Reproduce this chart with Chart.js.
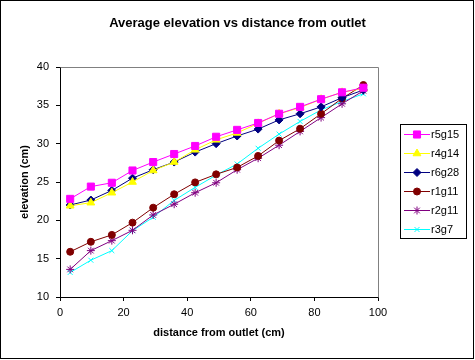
<!DOCTYPE html>
<html>
<head>
<meta charset="utf-8">
<script src="https://cdn.jsdelivr.net/npm/chart.js@4/dist/chart.umd.min.js"></script>
<style>
  html, body { margin: 0; padding: 0; background: #fff; }
  #wrap { width: 475px; height: 360px; position: relative; }
</style>
</head>
<body>
<div id="wrap"><canvas id="c" width="475" height="360"></canvas></div>
<script>
const chartTitle = 'Average elevation vs distance from outlet';
const xTitle = 'distance from outlet (cm)';
const yTitle = 'elevation (cm)';
const seriesNames = ['r5g15', 'r4g14', 'r6g28', 'r1g11', 'r2g11', 'r3g7'];
const distance = [3.2, 9.7, 16.3, 22.8, 29.3, 35.9, 42.5, 49.1, 55.7, 62.3, 68.9, 75.5, 82.1, 88.7, 95.4];
const r5g15 = [22.8, 24.4, 24.9, 26.5, 27.6, 28.65, 29.7, 30.9, 31.8, 32.7, 33.9, 34.8, 35.8, 36.7, 37.3];
const r4g14 = [21.9, 22.3, 23.6, 25.0, 26.5, 27.6, 29.2, 30.5, 31.4, 32.65, 33.9, 34.7, 35.8, 36.7, 37.2];
const r6g28 = [22.0, 22.65, 23.9, 25.5, 26.6, 27.6, 28.9, 30.0, 31.0, 31.9, 33.1, 33.9, 34.8, 36.0, 37.0];
const r1g11 = [15.9, 17.2, 18.1, 19.7, 21.65, 23.4, 24.95, 26.0, 26.9, 28.4, 30.4, 31.95, 33.9, 35.9, 37.65];
const r2g11 = [13.6, 16.05, 17.35, 18.7, 20.7, 22.1, 23.6, 24.9, 26.6, 28.1, 29.8, 31.6, 33.4, 35.2, 36.9];
const r3g7  = [13.2, 14.8, 16.05, 18.65, 20.4, 22.6, 24.3, 25.9, 27.35, 29.4, 31.25, 32.9, 34.4, 35.5, 36.5];
const xTicks = [0, 20, 40, 60, 80, 100];
const yTicks = [10, 15, 20, 25, 30, 35, 40];

const FONT = 'Arial, "Liberation Sans", Helvetica, sans-serif';
const seriesValues = [r5g15, r4g14, r6g28, r1g11, r2g11, r3g7];
const styles = [
  { color: '#FF00FF', pointStyle: 'rect', radius: 5 },
  { color: '#FFFF00', pointStyle: 'triangle', radius: 4.5 },
  { color: '#000080', pointStyle: 'rectRot', radius: 4 },
  { color: '#800000', pointStyle: 'circle', radius: 3.5 },
  { color: '#800080', pointStyle: 'star', radius: 4 },
  { color: '#00FFFF', pointStyle: 'crossRot', radius: 3.5 }
];

const datasets = seriesNames.map((name, i) => ({
  label: name,
  data: distance.map((d, j) => ({ x: d, y: seriesValues[i][j] })),
  borderColor: styles[i].color,
  backgroundColor: styles[i].color,
  pointBackgroundColor: styles[i].color,
  pointBorderColor: styles[i].color,
  pointStyle: styles[i].pointStyle,
  pointRadius: styles[i].radius,
  pointHoverRadius: styles[i].radius,
  pointBorderWidth: 1,
  borderWidth: 1,
  tension: 0,
  fill: false
}));

const frame = {
  id: 'frame',
  beforeDatasetsDraw(chart) {
    const { ctx, chartArea: a } = chart;
    ctx.save();
    ctx.strokeStyle = '#808080';
    ctx.lineWidth = 1;
    ctx.beginPath();
    ctx.moveTo(Math.round(a.left) + 0.5, Math.round(a.top) + 0.5);
    ctx.lineTo(Math.round(a.right) + 0.5, Math.round(a.top) + 0.5);
    ctx.lineTo(Math.round(a.right) + 0.5, Math.round(a.bottom) + 0.5);
    ctx.stroke();
    ctx.restore();
  },
  afterDraw(chart) {
    const { ctx } = chart;
    ctx.save();
    ctx.strokeStyle = '#000';
    ctx.lineWidth = 1;
    ctx.strokeRect(0.5, 0.5, 473, 358);
    // legend box, entries built from the datasets
    const bx = 400, by = 124, bw = 66, bh = 114;
    ctx.strokeRect(bx + 0.5, by + 0.5, bw, bh);
    ctx.font = '11px ' + FONT;
    ctx.textBaseline = 'middle';
    ctx.textAlign = 'left';
    chart.data.datasets.forEach((ds, i) => {
      const y = by + 10 + i * 19 + 0.5;
      ctx.strokeStyle = ds.borderColor;
      ctx.fillStyle = ds.backgroundColor;
      ctx.lineWidth = 1;
      ctx.beginPath();
      ctx.moveTo(bx + 4, y);
      ctx.lineTo(bx + 30, y);
      ctx.stroke();
      Chart.helpers.drawPoint(ctx, {
        pointStyle: ds.pointStyle,
        radius: ds.pointRadius,
        borderWidth: 1,
        rotation: 0
      }, bx + 17, y);
      ctx.fillStyle = '#000';
      ctx.fillText(ds.label, bx + 31, y + 0.5);
    });
    ctx.restore();
  }
};

new Chart(document.getElementById('c'), {
  type: 'line',
  data: { datasets },
  plugins: [frame],
  options: {
    responsive: false,
    animation: false,
    devicePixelRatio: 1,
    events: [],
    layout: { padding: 0 },
    plugins: {
      legend: { display: false },
      tooltip: { enabled: false },
      title: {
        display: true,
        text: chartTitle,
        color: '#000',
        font: { family: FONT, size: 13, weight: 'bold', lineHeight: 1.2 },
        padding: { top: 16, bottom: 35.4 }
      }
    },
    scales: {
      x: {
        type: 'linear',
        min: 0, max: 100,
        afterFit(s) { s.height = 63; },
        afterBuildTicks(s) { s.ticks = xTicks.map(v => ({ value: v })); },
        border: { display: true, color: '#000', width: 1 },
        grid: { display: true, drawOnChartArea: false, drawTicks: true, tickLength: 4, color: '#000' },
        ticks: { color: '#000', padding: 5, maxRotation: 0, font: { family: FONT, size: 11 } },
        title: {
          display: true, text: xTitle, color: '#000',
          font: { family: FONT, size: 11, weight: 'bold', lineHeight: 1.2 },
          padding: { top: 0, bottom: 20 }
        }
      },
      y: {
        type: 'linear',
        min: 10, max: 40,
        afterFit(s) { s.width = 60; },
        afterBuildTicks(s) { s.ticks = yTicks.map(v => ({ value: v })); },
        border: { display: true, color: '#000', width: 1 },
        grid: { display: true, drawOnChartArea: false, drawTicks: true, tickLength: 4, color: '#000' },
        ticks: { color: '#000', padding: 7, font: { family: FONT, size: 11 } },
        title: {
          display: true, text: yTitle, color: '#000',
          font: { family: FONT, size: 11, weight: 'bold', lineHeight: 1.2 },
          padding: { top: 18, bottom: 0 }
        }
      },
      legendSpace: {
        type: 'linear',
        position: 'right',
        display: true,
        afterFit(s) { s.width = 97; },
        border: { display: false },
        grid: { display: false, drawTicks: false },
        ticks: { display: false },
        title: { display: false }
      }
    }
  }
});
</script>
</body>
</html>
